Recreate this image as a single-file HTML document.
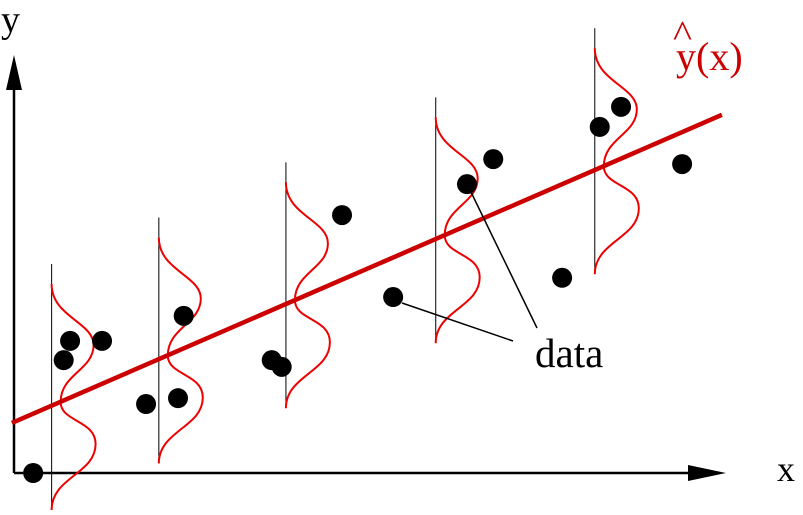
<!DOCTYPE html>
<html><head><meta charset="utf-8"><style>
html,body{margin:0;padding:0;background:#fff;}
svg{display:block;font-family:"Liberation Serif",serif;}
</style></head><body>
<svg id="chart" width="803" height="515" viewBox="0 0 803 515">
<g id="axes">
  <line x1="14" y1="473" x2="14" y2="85" stroke="#000" stroke-width="2.5"/>
  <polygon points="14,55 6,90 22,90" fill="#000"/>
  <line x1="14" y1="473" x2="695" y2="473" stroke="#000" stroke-width="2.5"/>
  <polygon points="726,473 688,465 688,481" fill="#000"/>
  <text x="1" y="32" font-size="38">y</text>
  <text x="777" y="481" font-size="36">x</text>
</g>
<g id="dists"></g>
<g id="fit"></g>
<g id="dots"></g>
<g>
  <text x="676" y="70" font-size="40" fill="#cc0000">y(x)</text>
  <text x="673" y="47" font-size="38" fill="#cc0000" textLength="19" lengthAdjust="spacingAndGlyphs">^</text>
  <line x1="402" y1="303" x2="513" y2="341" stroke="#000" stroke-width="1.5"/>
  <line x1="470" y1="190" x2="537" y2="328" stroke="#000" stroke-width="1.5"/>
  <text x="535" y="367" font-size="41">data</text>
</g>
</svg>
<script>
const pointX = [2.7, 7.0, 7.9, 12.4, 18.6, 23.1, 23.9, 36.3, 37.7, 46.2, 53.4, 63.8, 67.5, 77.2, 82.5, 85.5, 94.1];
const pointY = [0, 27.0, 31.6, 31.6, 16.5, 17.9, 37.6, 27.0, 25.4, 61.7, 42.1, 69.1, 75.1, 46.7, 82.8, 87.6, 73.9];
const fitIntercept = [12.2];
const fitSlope = [0.737];
const fitRange = [-0.3, 99.7];
const distX = [5.3, 20.4, 38.3, 59.4, 81.8];

const NS = "http://www.w3.org/2000/svg";
function xs(v){ return 14 + v * 7.1; }
function ys(v){ return 473 - v * 4.18; }
function fitY(x){ return fitIntercept[0] + fitSlope[0] * x; }

const dists = document.getElementById('dists');
distX.forEach((d, i) => {
  const px = xs(d);
  const cy = ys(fitY(d + 1.2));
  const vl = document.createElementNS(NS, 'line');
  vl.setAttribute('x1', px); vl.setAttribute('x2', px);
  vl.setAttribute('y1', cy - 138); vl.setAttribute('y2', cy + 105);
  vl.setAttribute('stroke', '#000'); vl.setAttribute('stroke-width', '1');
  
  
  dists.appendChild(vl);
  const p = document.createElementNS(NS, 'path');
  const X = v => (px + v).toFixed(1), Y = v => (cy + v).toFixed(1);
  p.setAttribute('d',
    `M${X(0)},${Y(-118)} C${X(0)},${Y(-85)} ${X(42)},${Y(-80)} ${X(42)},${Y(-57)} ` +
    `C${X(42)},${Y(-32)} ${X(9)},${Y(-28)} ${X(9)},${Y(0)} ` +
    `C${X(9)},${Y(20)} ${X(44)},${Y(18)} ${X(44)},${Y(42)} ` +
    `C${X(44)},${Y(72)} ${X(0)},${Y(75)} ${X(0)},${Y(108)}`);
  p.setAttribute('fill', 'none'); p.setAttribute('stroke', '#ee0000'); p.setAttribute('stroke-width', '2');
  
  
  dists.appendChild(p);
});

const fl = document.createElementNS(NS, 'line');
fl.setAttribute('x1', xs(fitRange[0])); fl.setAttribute('y1', ys(fitY(fitRange[0])));
fl.setAttribute('x2', xs(fitRange[1])); fl.setAttribute('y2', ys(fitY(fitRange[1])));
fl.setAttribute('stroke', '#cc0000'); fl.setAttribute('stroke-width', '4.5');


document.getElementById('fit').appendChild(fl);

const dots = document.getElementById('dots');
pointX.forEach((x, i) => {
  const c = document.createElementNS(NS, 'circle');
  c.setAttribute('cx', xs(x)); c.setAttribute('cy', ys(pointY[i])); c.setAttribute('r', '10');
  c.setAttribute('fill', '#000');
  
  
  dots.appendChild(c);
});
</script>
</body></html>
